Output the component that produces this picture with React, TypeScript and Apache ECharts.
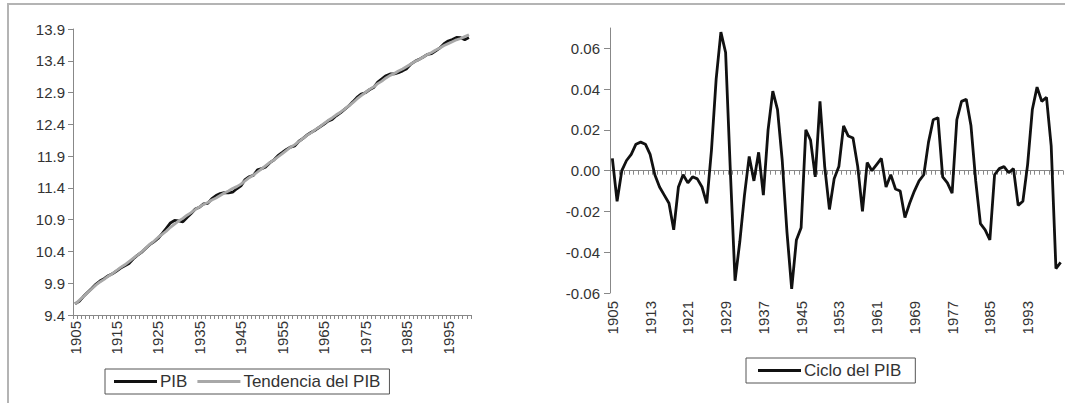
import React, { useEffect, useRef } from "react";
import * as echarts from "echarts";

const years: string[] = Array.from({ length: 96 }, (_, i) => String(1905 + i));

const pib = [
  9.576, 9.615, 9.69, 9.755, 9.818, 9.883, 9.934, 9.973, 10.018, 10.048,
  10.092, 10.138, 10.174, 10.211, 10.282, 10.338, 10.384, 10.447, 10.506, 10.552,
  10.604, 10.68, 10.765, 10.848, 10.888, 10.88, 10.866, 10.935, 10.998, 11.067,
  11.095, 11.149, 11.158, 11.23, 11.279, 11.31, 11.325, 11.32, 11.332, 11.386,
  11.432, 11.53, 11.575, 11.597, 11.684, 11.702, 11.731, 11.796, 11.842, 11.912,
  11.957, 12.006, 12.042, 12.06, 12.134, 12.18, 12.233, 12.276, 12.312, 12.358,
  12.401, 12.45, 12.477, 12.534, 12.58, 12.635, 12.688, 12.754, 12.825, 12.876,
  12.897, 12.944, 12.979, 13.065, 13.114, 13.165, 13.192, 13.195, 13.214, 13.241,
  13.276, 13.348, 13.391, 13.422, 13.459, 13.501, 13.513, 13.555, 13.603, 13.67,
  13.711, 13.734, 13.766, 13.762, 13.732, 13.765,
];

const tendencia = [
  9.57, 9.63, 9.69, 9.75, 9.81, 9.87, 9.92, 9.96, 10.01, 10.05,
  10.1, 10.15, 10.19, 10.24, 10.29, 10.34, 10.39, 10.45, 10.51, 10.56,
  10.62, 10.67, 10.72, 10.78, 10.83, 10.88, 10.92, 10.97, 11.01, 11.06,
  11.1, 11.14, 11.17, 11.21, 11.24, 11.28, 11.32, 11.35, 11.39, 11.42,
  11.46, 11.51, 11.56, 11.6, 11.65, 11.7, 11.75, 11.8, 11.84, 11.89,
  11.94, 11.99, 12.04, 12.08, 12.13, 12.18, 12.23, 12.27, 12.32, 12.36,
  12.41, 12.46, 12.5, 12.55, 12.59, 12.64, 12.69, 12.74, 12.8, 12.85,
  12.9, 12.95, 12.99, 13.04, 13.08, 13.13, 13.17, 13.2, 13.24, 13.27,
  13.31, 13.35, 13.39, 13.42, 13.46, 13.5, 13.53, 13.57, 13.6, 13.64,
  13.67, 13.7, 13.73, 13.75, 13.78, 13.81,
];

const ciclo = [
  0.006, -0.015, 0.0, 0.005, 0.008, 0.013, 0.014, 0.013, 0.008, -0.002,
  -0.008, -0.012, -0.016, -0.029, -0.008, -0.002, -0.006, -0.003, -0.004, -0.008,
  -0.016, 0.01, 0.045, 0.068, 0.058, 0.0, -0.054, -0.035, -0.012, 0.007,
  -0.005, 0.009, -0.012, 0.02, 0.039, 0.03, 0.005, -0.03, -0.058, -0.034,
  -0.028, 0.02, 0.015, -0.003, 0.034, 0.002, -0.019, -0.004, 0.002, 0.022,
  0.017, 0.016, 0.002, -0.02, 0.004, 0.0, 0.003, 0.006, -0.008, -0.002,
  -0.009, -0.01, -0.023, -0.016, -0.01, -0.005, -0.002, 0.014, 0.025, 0.026,
  -0.003, -0.006, -0.011, 0.025, 0.034, 0.035, 0.022, -0.005, -0.026, -0.029,
  -0.034, -0.002, 0.001, 0.002, -0.001, 0.001, -0.017, -0.015, 0.003, 0.03,
  0.041, 0.034, 0.036, 0.012, -0.048, -0.045,
];

const leftYTicks = [9.4, 9.9, 10.4, 10.9, 11.4, 11.9, 12.4, 12.9, 13.4, 13.9];
const rightYTicks = [-0.06, -0.04, -0.02, 0, 0.02, 0.04, 0.06];

const FONT = "Liberation Sans, Arial, sans-serif";
const AXIS = "#888888";
const TXT = "#333333";

export default function App() {
  const ref = useRef<HTMLDivElement>(null);
  useEffect(() => {
    const chart = echarts.init(ref.current!, undefined, { renderer: "svg" });
    const labelStyle = { fontSize: 15, color: TXT, fontFamily: FONT };
    const legendBase = {
      orient: "horizontal",
      borderColor: "#555555",
      borderWidth: 1,
      padding: [4, 9, 4, 9],
      icon: "rect",
      itemWidth: 43,
      itemHeight: 3,
      itemGap: 10,
      textStyle: { fontSize: 17, color: TXT, fontFamily: FONT, padding: [0, 0, 0, -2] },
    };
    chart.setOption({
      animation: false,
      backgroundColor: "#ffffff",
      textStyle: { fontFamily: FONT },
      graphic: [
        {
          type: "rect",
          silent: true,
          z: -10,
          shape: { x: 8, y: 4, width: 1080, height: 420 },
          style: { fill: "none", stroke: "#b4b4b4", lineWidth: 2 },
        },
      ],
      grid: [
        { left: 73, top: 29, width: 398, height: 286 },
        { left: 610, top: 28, width: 453, height: 265 },
      ],
      legend: [
        { ...legendBase, data: ["PIB", "Tendencia del PIB"], left: 105, top: 369 },
        { ...legendBase, data: ["Ciclo del PIB"], left: 746, top: 358, padding: [4, 14, 4, 12] },
      ],
      xAxis: [
        {
          gridIndex: 0,
          type: "category",
          data: years,
          boundaryGap: true,
          axisLine: { show: true, onZero: false, lineStyle: { color: AXIS, width: 1 } },
          axisTick: { show: true, interval: 0, length: 4, lineStyle: { color: AXIS } },
          axisLabel: { ...labelStyle, interval: 9, rotate: 90, margin: 6 },
          splitLine: { show: false },
        },
        {
          gridIndex: 1,
          type: "category",
          data: years,
          position: "bottom",
          boundaryGap: true,
          axisLine: { show: false, onZero: false },
          axisTick: { show: false },
          axisLabel: { ...labelStyle, interval: 7, rotate: 90, margin: 8 },
          splitLine: { show: false },
        },
        {
          gridIndex: 1,
          type: "category",
          data: years,
          position: "bottom",
          boundaryGap: true,
          axisLine: { show: true, onZero: true, lineStyle: { color: AXIS, width: 1 } },
          axisTick: { show: true, interval: 0, length: 4, lineStyle: { color: AXIS } },
          axisLabel: { show: false },
          splitLine: { show: false },
        },
      ],
      yAxis: [
        {
          gridIndex: 0,
          type: "value",
          min: 9.4,
          max: 13.9,
          axisLine: { show: true, lineStyle: { color: AXIS } },
          axisTick: { show: true, length: 5, customValues: leftYTicks, lineStyle: { color: AXIS } },
          axisLabel: {
            ...labelStyle,
            customValues: leftYTicks,
            margin: 8,
            formatter: (v: number) => v.toFixed(1),
          },
          splitLine: { show: false },
        },
        {
          gridIndex: 1,
          type: "value",
          min: -0.06,
          max: 0.07,
          axisLine: { show: true, lineStyle: { color: AXIS } },
          axisTick: { show: true, length: 6, customValues: rightYTicks, lineStyle: { color: AXIS } },
          axisLabel: {
            ...labelStyle,
            customValues: rightYTicks,
            margin: 10,
            formatter: (v: number) => v.toFixed(2),
          },
          splitLine: { show: false },
        },
      ],
      series: [
        {
          name: "PIB",
          type: "line",
          xAxisIndex: 0,
          yAxisIndex: 0,
          data: pib,
          symbol: "none",
          lineStyle: { color: "#111111", width: 2.8 },
          itemStyle: { color: "#111111" },
          z: 2,
        },
        {
          name: "Tendencia del PIB",
          type: "line",
          xAxisIndex: 0,
          yAxisIndex: 0,
          data: tendencia,
          symbol: "none",
          lineStyle: { color: "#a8a8a8", width: 2.8 },
          itemStyle: { color: "#a8a8a8" },
          z: 3,
        },
        {
          name: "Ciclo del PIB",
          type: "line",
          xAxisIndex: 2,
          yAxisIndex: 1,
          data: ciclo,
          symbol: "none",
          lineStyle: { color: "#111111", width: 2.8 },
          itemStyle: { color: "#111111" },
          z: 3,
        },
      ],
    });
    return () => chart.dispose();
  }, []);
  return (
    <div
      ref={ref}
      style={{ position: "fixed", left: 0, top: 0, width: 1065, height: 403, background: "#fff" }}
    />
  );
}
